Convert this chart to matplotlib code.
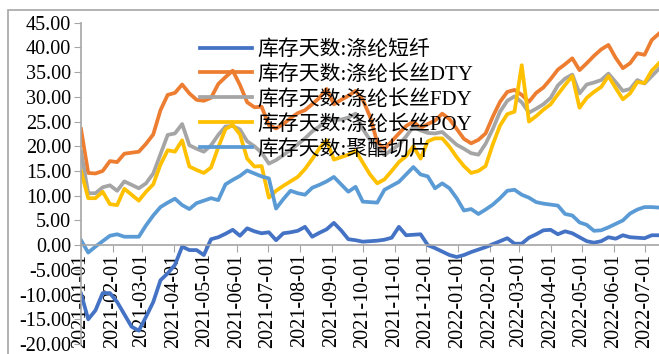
import numpy as np
import pandas as pd
import matplotlib
matplotlib.use("Agg")
import matplotlib.pyplot as plt
import matplotlib.dates as mdates
from matplotlib.patches import Rectangle
from matplotlib.ticker import FuncFormatter

plt.rcParams['font.family'] = ['Liberation Serif', 'Noto Sans CJK SC']
plt.rcParams['axes.unicode_minus'] = False

# weekly data, 2021-01-01 .. 2022-07-15
dates = pd.date_range("2021-01-01", periods=81, freq="7D")

labels = ["库存天数:涤纶短纤", "库存天数:涤纶长丝DTY", "库存天数:涤纶长丝FDY",
          "库存天数:涤纶长丝POY", "库存天数:聚酯切片"]
colors = ["#4472C4", "#ED7D31", "#A5A5A5", "#FFC000", "#5B9BD5"]

psf = [-9.8, -15.0, -13.2, -9.7, -9.7, -11.5, -14.0, -16.5, -17.3, -14.5,
       -11.5, -7.1, -5.7, -4.0, -0.3, -1.0, -1.0, -2.0, 1.2, 1.6,
       2.3, 3.1, 1.9, 3.4, 2.8, 2.4, 2.6, 1.0, 2.4, 2.6,
       2.9, 3.7, 1.7, 2.5, 3.2, 4.5, 3.0, 1.2, 1.0, 0.7,
       0.8, 0.9, 1.1, 1.5, 3.7, 2.0, 2.1, 2.2, 0.0, -0.6,
       -1.3, -2.0, -2.4, -2.0, -1.4, -0.9, -0.4, 0.2, 0.8, 1.4,
       0.3, 0.3, 1.5, 2.2, 3.0, 3.1, 2.2, 2.8, 2.4, 1.6,
       0.8, 0.5, 0.8, 1.6, 1.3, 2.0, 1.6, 1.5, 1.4, 2.0,
       2.0]

dty = [23.5, 14.6, 14.5, 15.0, 17.0, 16.8, 18.5, 18.7, 18.9, 20.5,
       22.4, 27.3, 30.4, 30.8, 32.5, 30.7, 29.4, 29.2, 29.8, 32.6,
       34.0, 35.3, 32.4, 28.9, 27.9, 28.0, 24.3, 23.6, 24.5, 25.7,
       26.7, 27.3, 28.5, 29.8, 31.6, 28.5, 29.4, 30.2, 31.2, 29.4,
       26.0, 20.8, 19.5, 21.0, 22.6, 24.1, 25.0, 23.7, 24.5, 25.2,
       26.6, 25.5, 23.5, 21.5, 20.6, 21.3, 22.6, 26.0, 29.0, 31.0,
       31.4, 30.4, 29.0, 30.8, 31.9, 33.6, 35.5, 36.6, 37.8, 35.4,
       36.8, 38.3, 39.6, 40.5, 37.9, 35.8, 36.8, 38.8, 38.5, 41.5,
       42.8]

fdy = [19.0, 10.5, 10.5, 11.7, 12.1, 11.0, 12.9, 12.2, 11.5, 12.5,
       14.5, 18.4, 22.3, 22.6, 24.5, 20.2, 19.5, 18.9, 20.2, 22.3,
       24.0, 24.1, 23.4, 21.0, 20.0, 18.7, 16.5, 17.2, 18.2, 19.3,
       20.4, 21.6, 23.0, 24.0, 25.5, 25.3, 25.4, 25.8, 26.6, 23.5,
       21.3, 19.8, 18.2, 19.3, 20.3, 22.0, 24.0, 23.2, 22.7, 22.6,
       22.9, 21.6, 20.3, 19.5, 18.6, 18.3, 20.5, 23.5, 27.0, 29.2,
       30.1, 28.9, 26.8, 27.6, 28.5, 29.8, 32.3, 33.7, 34.5, 30.7,
       32.5, 32.9, 33.4, 34.7, 33.0, 31.2, 31.6, 33.4, 32.7, 34.2,
       35.7]

poy = [15.0, 9.5, 9.5, 10.8, 8.3, 8.1, 11.4, 10.2, 9.0, 10.8,
       12.3, 16.3, 19.2, 18.9, 21.2, 15.9, 15.2, 14.6, 15.7, 19.8,
       23.5, 24.3, 22.4, 17.5, 15.9, 16.0, 9.6, 11.0, 12.0, 12.9,
       13.8, 15.4, 17.4, 19.6, 21.2, 17.3, 17.8, 18.3, 19.1, 16.7,
       14.3, 12.5, 13.3, 15.0, 16.8, 18.0, 20.0, 17.5, 21.0, 21.6,
       21.6, 19.9, 17.8, 16.0, 14.6, 15.0, 16.0, 20.4, 24.2, 26.5,
       27.0, 36.4, 25.0, 26.1, 27.4, 28.5, 30.5, 32.4, 34.2, 27.8,
       29.8, 31.0, 32.0, 34.2, 31.8, 29.5, 30.7, 33.0, 32.8, 35.3,
       36.8]

chips = [1.0, -1.5, -0.3, 0.8, 1.9, 2.2, 1.7, 1.7, 1.7, 4.0,
         6.0, 7.7, 8.6, 9.4, 8.1, 7.3, 8.5, 9.0, 9.5, 9.1,
         12.3, 13.2, 14.0, 15.1, 14.5, 13.9, 13.5, 7.4, 9.3, 11.0,
         10.5, 10.2, 11.6, 12.2, 12.9, 13.8, 12.3, 10.8, 11.8, 8.8,
         8.7, 8.6, 11.2, 12.0, 12.8, 14.3, 15.8, 14.3, 13.9, 11.5,
         12.5, 11.5, 9.5, 7.0, 7.3, 6.3, 7.2, 8.2, 9.5, 11.0,
         11.2, 10.2, 9.6, 8.7, 8.4, 8.2, 8.0, 6.3, 6.0, 4.6,
         4.1, 2.9, 3.0, 3.6, 4.3, 5.0, 6.4, 7.2, 7.7, 7.7,
         7.6]

series = [psf, dty, fdy, poy, chips]

fig = plt.figure(figsize=(6.59, 3.54), dpi=100)
ax = fig.add_axes([81 / 659, 10 / 354, 1 - 81 / 659, (344 - 22.7) / 354])

for vals, lab, col in zip(series, labels, colors):
    ax.plot(dates, vals, color=col, lw=2.7, label=lab, solid_joinstyle='round')

ax.set_xlim(pd.Timestamp("2021-01-01"), pd.Timestamp("2022-07-15"))
ax.set_ylim(-20, 45)
ax.set_yticks(np.arange(-20, 46, 5))
ax.yaxis.set_major_formatter(FuncFormatter(lambda v, p: f"{v:.2f}"))

ax.xaxis.set_major_locator(mdates.MonthLocator())
ax.xaxis.set_major_formatter(mdates.DateFormatter("%Y-%m-%d"))

for s in ["top", "right"]:
    ax.spines[s].set_visible(False)
ax.spines["bottom"].set_position(("data", 0))
ax.spines["left"].set_color("#a6a6a6")
ax.spines["bottom"].set_color("#a6a6a6")
ax.spines["left"].set_linewidth(1.2)
ax.spines["bottom"].set_linewidth(1.2)

ax.tick_params(axis="y", length=5, color="#a6a6a6", labelsize=14.5, pad=2)
ax.tick_params(axis="x", length=5, color="#a6a6a6", labelsize=14.5, pad=1,
               labelrotation=90)

ax.legend(loc="upper left", bbox_to_anchor=(200 / 659, 1 - 40 / 354),
          bbox_transform=fig.transFigure, frameon=False, fontsize=15,
          handlelength=2.5, handletextpad=0.25, labelspacing=0.24,
          borderpad=0, borderaxespad=0)

# chart-area border
fig.patches.append(Rectangle((8 / 659, -0.1), 1.2, 1 - 10 / 354 + 0.1,
                             transform=fig.transFigure, fill=False,
                             edgecolor="#a6a6a6", lw=1.2))

fig.savefig("out.png", dpi=100)
